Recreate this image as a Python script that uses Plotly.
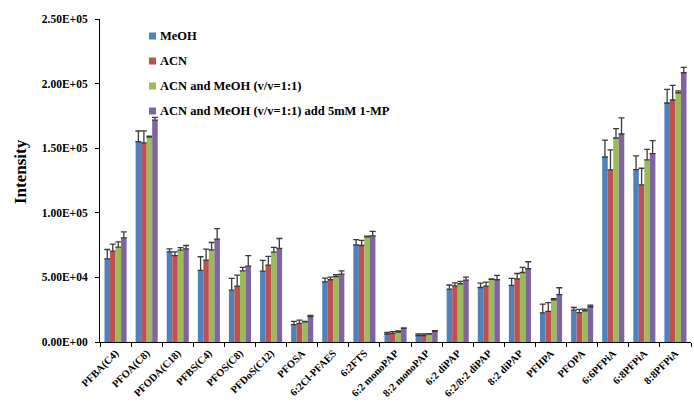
import plotly.graph_objects as go

# Compounds on the x axis
categories = ["PFBA(C4)", "PFOA(C8)", "PFODA(C18)", "PFBS(C4)", "PFOS(C8)", "PFDoS(C12)",
              "PFOSA", "6:2Cl-PFAES", "6:2FTS", "6:2 monoPAP", "8:2 monoPAP", "6:2 diPAP",
              "6:2/8:2 diPAP", "8:2 diPAP", "PFHPA", "PFOPA", "6:6PFPiA", "6:8PFPiA", "8:8PFPiA"]

series_names = ["MeOH", "ACN", "ACN and MeOH (v/v=1:1)", "ACN and MeOH (v/v=1:1) add 5mM 1-MP"]
series_colors = ["#4F81BD", "#C0504D", "#9BBB59", "#8064A2"]

# Mean intensities
meoh = [64400, 155100, 69800, 55400, 40200, 54900, 13400, 46600, 75200, 6200, 4900,
        41000, 42200, 43800, 22600, 24700, 143200, 133400, 185000]
acn = [70300, 154100, 66900, 63400, 43300, 59500, 14400, 48200, 74700, 6700, 4900,
       43500, 43300, 48900, 23700, 22700, 133200, 121600, 187300]
acn_meoh = [73400, 158500, 71100, 71300, 55100, 69600, 15500, 50700, 81400, 7700, 6200,
            45100, 48400, 53800, 32700, 24200, 157900, 140900, 192900]
acn_meoh_mp = [80600, 171800, 72100, 79600, 58700, 72400, 19600, 52500, 82200, 10500, 8200,
               47900, 48200, 56700, 36600, 27300, 161000, 145800, 208400]

# Standard deviations (drawn upward only)
meoh_err = [7200, 8200, 2300, 10600, 9000, 8200, 2600, 2800, 4100, 1300, 1300,
            3100, 3400, 5400, 6700, 2000, 13100, 10600, 10600]
acn_err = [5400, 9300, 2800, 8500, 8500, 6700, 2600, 2000, 3900, 1300, 1300,
           2300, 3100, 4100, 6700, 2600, 15500, 12900, 11300]
acn_meoh_err = [4100, 800, 2000, 5700, 2600, 3600, 500, 1500, 500, 800, 300,
                1800, 500, 3900, 800, 1300, 7200, 8200, 1500]
acn_meoh_mp_err = [4600, 2100, 2600, 8200, 8200, 7700, 1000, 2600, 3400, 500, 500,
                   2300, 3400, 5400, 5400, 1300, 12400, 10000, 4100]

y_tickvals = [0, 50000, 100000, 150000, 200000, 250000]
y_ticktext = ["0.00E+00", "5.00E+04", "1.00E+05", "1.50E+05", "2.00E+05", "2.50E+05"]

values = [meoh, acn, acn_meoh, acn_meoh_mp]
errors = [meoh_err, acn_err, acn_meoh_err, acn_meoh_mp_err]

SERIF = "Liberation Serif, Times New Roman, serif"
W, H = 694, 402
ML, MR, MT, MB = 100, 3, 19, 60
PW, PH = W - ML - MR, H - MT - MB


def px_to_paper(x, y):
    return (x - ML) / PW, (H - MB - y) / PH


fig = go.Figure()
for name, color, vals, errs in zip(series_names, series_colors, values, errors):
    fig.add_trace(go.Bar(
        name=name, x=categories, y=vals,
        marker=dict(color=color, line=dict(width=0)),
        error_y=dict(type="data", array=errs, arrayminus=[0] * len(errs), symmetric=False,
                     color="#3a3a3a", thickness=1.3, width=3),
        showlegend=False,
    ))

# Legend: small squares with bold labels
shapes = []
annotations = []
row_y = [36, 61, 86, 111]
for name, color, ry in zip(series_names, series_colors, row_y):
    x0, y0 = px_to_paper(149, ry - 3.5)
    x1, y1 = px_to_paper(156, ry + 3.5)
    shapes.append(dict(type="rect", xref="paper", yref="paper", x0=x0, x1=x1, y0=y1, y1=y0,
                       fillcolor=color, line=dict(width=0)))
    tx, ty = px_to_paper(158, ry)
    annotations.append(dict(text=name, xref="paper", yref="paper", x=tx, y=ty,
                            xanchor="left", yanchor="middle", showarrow=False,
                            font=dict(family=SERIF, size=12.5, color="black", weight="bold")))

ax, ay = px_to_paper(20, 172)
annotations.append(dict(text="Intensity", xref="paper", yref="paper", x=ax, y=ay,
                        textangle=-90, xanchor="center", yanchor="middle", showarrow=False,
                        font=dict(family=SERIF, size=17, color="black", weight="bold")))

fig.update_layout(
    width=W, height=H,
    margin=dict(l=ML, r=MR, t=MT, b=MB, pad=0),
    paper_bgcolor="white", plot_bgcolor="white",
    barmode="group", bargap=0.29, bargroupgap=0,
    shapes=shapes, annotations=annotations,
    font=dict(family=SERIF, color="black"),
)
fig.update_xaxes(
    type="category", automargin=False,
    showline=True, linecolor="black", linewidth=1,
    ticks="outside", tickson="boundaries", ticklen=4, tickcolor="black",
    tickangle=-45, showgrid=False,
    tickfont=dict(family=SERIF, size=10.5, color="black", weight="bold"),
)
fig.update_yaxes(
    range=[0, 250000], automargin=False,
    tickvals=y_tickvals, ticktext=y_ticktext,
    showline=True, linecolor="black", linewidth=1,
    ticks="outside", ticklen=4, tickcolor="black", ticklabelstandoff=5,
    showgrid=False, zeroline=False,
    tickfont=dict(family=SERIF, size=11.5, color="black", weight="bold"),
)

fig.write_html("out.html")
